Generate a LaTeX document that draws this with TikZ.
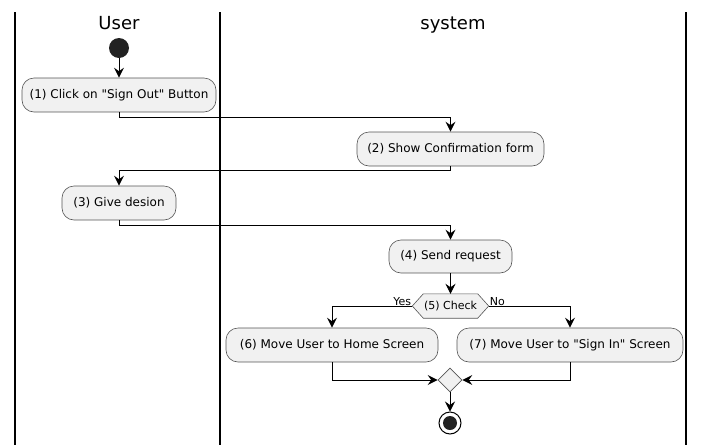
\documentclass[tikz,border=0pt]{standalone}
\usepackage{fontspec}
\setmainfont{DejaVu Sans}
\usetikzlibrary{arrows.meta,shapes.geometric,backgrounds}
\definecolor{boxfill}{HTML}{F1F1F1}
\definecolor{boxline}{HTML}{555555}
\definecolor{startc}{HTML}{222222}
\newcommand{\dq}{\XeTeXglyph\XeTeXcharglyph"22\relax}
\tikzset{
  act/.style={draw=boxline, line width=0.6pt, fill=boxfill, rounded corners=12pt,
    minimum height=34pt, inner sep=0pt, font=\fontsize{12}{14}\selectfont},
  flow/.style={draw=black, line width=0.9pt, -{Stealth[length=10pt,width=10pt,inset=3.5pt]}},
  lane/.style={draw=black, line width=1.4pt},
  ttl/.style={font=\fontsize{18}{20}\selectfont, anchor=base},
  lbl/.style={font=\fontsize{11}{12}\selectfont, inner sep=1pt},
}
\begin{document}
\begin{tikzpicture}[x=1pt,y=-1pt]
\useasboundingbox (0,0) rectangle (705,445);
% lanes
\coordinate (l1t) at (15,12); \coordinate (l1b) at (15,445);
\coordinate (l2t) at (220,12); \coordinate (l2b) at (220,445);
\coordinate (l3t) at (686,12); \coordinate (l3b) at (686,445);
\draw[lane] (l1t) -- (l1b);
\draw[lane] (l2t) -- (l2b);
\draw[lane] (l3t) -- (l3b);
\node[ttl] (tu) at (119,29) {User};
\node[ttl] (ts) at (453,29) {system};
% nodes
\node[circle, fill=startc, minimum size=20pt, inner sep=0pt] (start) at (119,48) {};
\node[act, minimum width=194pt] (b1) at (119,95) {(1) Click on \dq Sign Out\dq{} Button};
\node[act, minimum width=187pt] (b2) at (450.5,149) {(2) Show Confirmation form};
\node[act, minimum width=114pt] (b3) at (119,203) {(3) Give desion};
\node[act, minimum width=123pt, minimum height=33pt] (b4) at (450.5,256.5) {(4) Send request};
\node[minimum width=54pt, minimum height=24pt, inner sep=0pt, font=\fontsize{11}{12}\selectfont] (chk) at (450.5,306) {(5) Check};
\begin{scope}[on background layer]
\draw[draw=boxline, line width=0.6pt, fill=boxfill] (chk.north west) -- (chk.north east) -- ([xshift=11pt]chk.east) -- (chk.south east) -- (chk.south west) -- ([xshift=-11pt]chk.west) -- cycle;
\end{scope}
\coordinate (chkL) at ([xshift=-11pt]chk.west);
\coordinate (chkR) at ([xshift=11pt]chk.east);
\node[lbl, anchor=south east] (yes) at ([yshift=-1pt]chkL) {Yes};
\node[lbl, anchor=south west] (no) at ([yshift=-1pt]chkR) {No};
\node[act, minimum width=212pt] (b6) at (332,345) {(6) Move User to Home Screen};
\node[act, minimum width=226pt] (b7) at (570,345) {(7) Move User to \dq Sign In\dq{} Screen};
\node[diamond, draw=boxline, line width=0.6pt, fill=boxfill, minimum size=24pt, inner sep=0pt, aspect=1] (mrg) at (450,380) {};
\node[circle, draw=black, line width=1pt, fill=white, minimum size=22pt, inner sep=0pt] (end) at (450,423) {};
\node[circle, fill=startc, minimum size=14pt, inner sep=0pt] (endin) at (450,423) {};
% connectors
\draw[flow] (start) -- (b1);
\draw[flow] (b1.south) -- ++(0,5) -| (b2.north);
\draw[flow] (b2.south) -- ++(0,4) -| (b3.north);
\draw[flow] (b3.south) -- ++(0,5) -| (b4.north);
\draw[flow] (b4.south) -- (chk.north);
\draw[flow] (chkL) -| (b6.north);
\draw[flow] (chkR) -| (b7.north);
\draw[flow] (b6.south) |- (mrg.west);
\draw[flow] (b7.south) |- (mrg.east);
\draw[flow] (mrg.south) -- (end.north);
\end{tikzpicture}
\end{document}
